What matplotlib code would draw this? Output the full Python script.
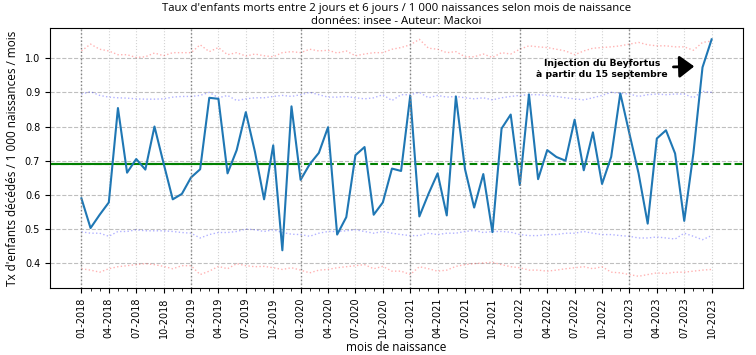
import numpy as np
import matplotlib
matplotlib.use("Agg")
import matplotlib.pyplot as plt

# mois de naissance 01-2018 -> 10-2023
annees = [2018, 2019, 2020, 2021, 2022, 2023]
mois = [f"{m:02d}-{a}" for a in annees for m in range(1, 13)][:70]

taux = [0.590, 0.503, 0.542, 0.578, 0.854, 0.665, 0.705, 0.674, 0.800, 0.692,
        0.587, 0.603, 0.651, 0.675, 0.884, 0.881, 0.663, 0.731, 0.842, 0.726,
        0.587, 0.745, 0.438, 0.859, 0.644, 0.690, 0.723, 0.798, 0.484, 0.535,
        0.716, 0.740, 0.542, 0.578, 0.677, 0.670, 0.890, 0.537, 0.603, 0.663,
        0.540, 0.888, 0.675, 0.563, 0.661, 0.491, 0.794, 0.835, 0.629, 0.894,
        0.646, 0.731, 0.711, 0.700, 0.820, 0.672, 0.783, 0.632, 0.711, 0.897,
        0.779, 0.663, 0.516, 0.765, 0.789, 0.721, 0.524, 0.721, 0.973, 1.055]

haut3 = [1.021, 1.041, 1.026, 1.021, 1.010, 1.010, 1.002, 1.004, 1.015, 1.007,
         1.016, 1.016, 1.016, 1.039, 1.019, 1.031, 1.010, 1.016, 1.006, 1.012,
         1.007, 1.004, 1.016, 1.019, 1.016, 1.026, 1.021, 1.023, 1.015, 1.021,
         1.007, 1.012, 1.016, 1.016, 1.026, 1.031, 1.039, 1.055, 1.029, 1.026,
         1.016, 1.019, 1.004, 1.004, 1.012, 1.002, 1.016, 1.012, 1.026, 1.036,
         1.033, 1.031, 1.026, 1.021, 1.010, 1.021, 1.029, 1.031, 1.033, 1.036,
         1.041, 1.046, 1.039, 1.036, 1.036, 1.033, 1.033, 1.023, 1.046, 1.050]

haut2 = [0.895, 0.902, 0.891, 0.886, 0.884, 0.883, 0.881, 0.880, 0.880, 0.881,
         0.886, 0.888, 0.888, 0.891, 0.900, 0.884, 0.891, 0.876, 0.881, 0.884,
         0.884, 0.888, 0.891, 0.888, 0.893, 0.900, 0.893, 0.886, 0.886, 0.888,
         0.884, 0.881, 0.884, 0.893, 0.876, 0.893, 0.893, 0.900, 0.884, 0.891,
         0.886, 0.888, 0.884, 0.881, 0.884, 0.878, 0.884, 0.888, 0.891, 0.893,
         0.893, 0.891, 0.888, 0.884, 0.881, 0.878, 0.884, 0.891, 0.900, 0.897,
         0.895, 0.888, 0.893, 0.895, 0.893, 0.895, 0.895, 0.884, 0.903, 0.900]

bas2 = [0.492, 0.488, 0.488, 0.479, 0.493, 0.493, 0.498, 0.495, 0.495, 0.495,
        0.493, 0.490, 0.488, 0.474, 0.484, 0.490, 0.490, 0.493, 0.500, 0.498,
        0.493, 0.498, 0.490, 0.485, 0.484, 0.479, 0.488, 0.493, 0.493, 0.495,
        0.498, 0.493, 0.488, 0.493, 0.488, 0.484, 0.481, 0.481, 0.488, 0.484,
        0.488, 0.488, 0.493, 0.496, 0.490, 0.493, 0.493, 0.491, 0.484, 0.481,
        0.481, 0.484, 0.484, 0.488, 0.488, 0.493, 0.488, 0.484, 0.484, 0.481,
        0.479, 0.474, 0.474, 0.477, 0.474, 0.471, 0.488, 0.479, 0.469, 0.481]

bas3 = [0.384, 0.380, 0.374, 0.384, 0.390, 0.393, 0.396, 0.399, 0.396, 0.391,
        0.384, 0.393, 0.393, 0.367, 0.377, 0.391, 0.384, 0.399, 0.393, 0.390,
        0.391, 0.387, 0.382, 0.387, 0.380, 0.372, 0.380, 0.382, 0.387, 0.390,
        0.393, 0.396, 0.384, 0.391, 0.377, 0.377, 0.367, 0.390, 0.384, 0.377,
        0.380, 0.391, 0.396, 0.399, 0.401, 0.403, 0.396, 0.390, 0.387, 0.380,
        0.380, 0.377, 0.380, 0.384, 0.387, 0.390, 0.384, 0.390, 0.374, 0.372,
        0.367, 0.362, 0.367, 0.372, 0.370, 0.374, 0.374, 0.377, 0.380, 0.382]

moyenne = 0.690

plt.rcParams['font.size'] = 7
fig, ax = plt.subplots(figsize=(7.56, 3.55), dpi=100)
fig.subplots_adjust(left=0.066, right=0.983, top=0.921, bottom=0.189)

x = np.arange(len(mois))

ax.plot(x, haut3, color='red', linestyle=':', alpha=0.3, lw=1)
ax.plot(x, bas3, color='red', linestyle=':', alpha=0.3, lw=1)
ax.plot(x, haut2, color='blue', linestyle=':', alpha=0.3, lw=1)
ax.plot(x, bas2, color='blue', linestyle=':', alpha=0.3, lw=1)

ax.axhline(moyenne, color='green', linestyle='--', lw=1.5)
ax.axhline(moyenne, xmin=0, xmax=0.356, color='green', linestyle='-', lw=1.5)

ax.plot(x, taux, color='#1f77b4', lw=1.5)

for i, m in enumerate(mois):
    if m.startswith('01-'):
        ax.axvline(i, color='gray', linestyle=':', lw=1)

ax.set_xticks(x[::3])
ax.set_xticklabels(mois[::3], rotation=90)
ax.set_xticks(x, minor=True)
ax.grid(axis='x', which='major', linestyle=':', color='lightgray', lw=0.8)
ax.grid(axis='y', linestyle='--', color='gray', alpha=0.5, lw=0.8)
ax.set_ylim(0.328, 1.088)

ax.annotate("Injection du Beyfortus\nà partir du 15 septembre",
            xy=(67.4, 0.976), xytext=(57.0, 0.969),
            ha='center', va='center', fontweight='bold', fontsize=6.7,
            linespacing=1.35,
            arrowprops=dict(arrowstyle='-|>,head_width=0.45,head_length=0.6',
                            mutation_scale=15, color='black', lw=2))

ax.set_title("Taux d'enfants morts entre 2 jours et 6 jours / 1 000 naissances selon mois de naissance\n"
             "données: insee - Auteur: Mackoi", fontsize=8.2, pad=3,
             family=['Open Sans', 'DejaVu Sans'])
ax.set_xlabel("mois de naissance", fontsize=8.5, family=['Open Sans', 'DejaVu Sans'], labelpad=2)
ax.set_ylabel("Tx d'enfants décédés / 1 000 naissances / mois", fontsize=8.5,
              family=['Open Sans', 'DejaVu Sans'])

fig.savefig("out.png")
